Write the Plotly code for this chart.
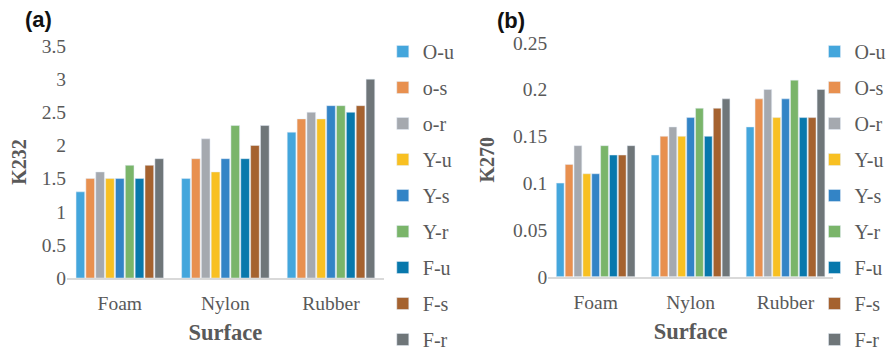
import plotly.graph_objects as go

surfaces = ["Foam", "Nylon", "Rubber"]
series_left = ["O-u", "o-s", "o-r", "Y-u", "Y-s", "Y-r", "F-u", "F-s", "F-r"]
series_right = ["O-u", "O-s", "O-r", "Y-u", "Y-s", "Y-r", "F-u", "F-s", "F-r"]
colors = ["#44A6DC", "#E8904F", "#A5A9AF", "#F8C022", "#3384C6",
          "#7AB56A", "#0878AC", "#A5622F", "#6F7679"]

# K232 values per series: [Foam, Nylon, Rubber]
k232 = [
    [1.3, 1.5, 2.2],
    [1.5, 1.8, 2.4],
    [1.6, 2.1, 2.5],
    [1.5, 1.6, 2.4],
    [1.5, 1.8, 2.6],
    [1.7, 2.3, 2.6],
    [1.5, 1.8, 2.5],
    [1.7, 2.0, 2.6],
    [1.8, 2.3, 3.0],
]
# K270 values per series: [Foam, Nylon, Rubber]
k270 = [
    [0.10, 0.13, 0.16],
    [0.12, 0.15, 0.19],
    [0.14, 0.16, 0.20],
    [0.11, 0.15, 0.17],
    [0.11, 0.17, 0.19],
    [0.14, 0.18, 0.21],
    [0.13, 0.15, 0.17],
    [0.13, 0.18, 0.17],
    [0.14, 0.19, 0.20],
]

SERIF = "Liberation Serif, Times New Roman, serif"
GRAY = "#595959"

# the page body adds an 8px offset; size the figure to fill the window
OFF = 8
W, H = 894 - OFF, 352 - OFF
L, R, T, B = 67 - OFF, 60.5, 40 - OFF, 74
pw, ph = W - L - R, H - T - B


def px_x(px):
    """window pixel x -> paper coordinate"""
    return (px - OFF - L) / pw


def px_y(py):
    """window pixel y -> paper coordinate"""
    return (H - B - (py - OFF)) / ph


fig = go.Figure()
for i, name in enumerate(series_left):
    fig.add_trace(go.Bar(
        x=surfaces, y=k232[i], name=name, marker_color=colors[i],
        xaxis="x", yaxis="y", legend="legend", legendgroup="L" + str(i),
    ))
for i, name in enumerate(series_right):
    fig.add_trace(go.Bar(
        x=surfaces, y=k270[i], name=name, marker_color=colors[i],
        xaxis="x2", yaxis="y2", legend="legend2", legendgroup="R" + str(i),
    ))

axis_font = dict(family=SERIF, size=19.5, color=GRAY)
xtitle_font = dict(family=SERIF, size=22.5, color=GRAY)
ytitle_font = dict(family=SERIF, size=20, color=GRAY)
legend_font = dict(family=SERIF, size=20, color=GRAY)

fig.update_layout(
    width=W, height=H,
    margin=dict(l=L, r=R, t=T, b=B, autoexpand=False),
    paper_bgcolor="white", plot_bgcolor="white",
    barmode="group", bargap=0.16, bargroupgap=0.12,
    xaxis=dict(domain=[px_x(67), px_x(384)], anchor="y", showgrid=False,
               showline=True, linecolor="#D9D9D9", linewidth=1.5,
               ticks="", tickfont=axis_font, automargin=False,
               ticklabelstandoff=7,
               title=dict(text="<b>Surface</b>", font=xtitle_font,
                          standoff=11)),
    yaxis=dict(domain=[px_y(278), px_y(46)], anchor="x", range=[0, 3.5],
               dtick=0.5, showgrid=False, zeroline=False, showline=False,
               tickfont=axis_font, ticks="", automargin=False,
               title=dict(text="<b>K232</b>", font=ytitle_font, standoff=15)),
    xaxis2=dict(domain=[px_x(548.5), px_x(833.5)], anchor="y2",
                showgrid=False, showline=True, linecolor="#D9D9D9",
                linewidth=1.5, ticks="", tickfont=axis_font, automargin=False,
                ticklabelstandoff=7,
                title=dict(text="<b>Surface</b>", font=xtitle_font,
                           standoff=11)),
    yaxis2=dict(domain=[px_y(276.7), px_y(42.7)], anchor="x2",
                range=[0, 0.25], dtick=0.05, showgrid=False, zeroline=False,
                showline=False, tickfont=axis_font, ticks="", automargin=False,
                title=dict(text="<b>K270</b>", font=ytitle_font, standoff=13)),
    legend=dict(x=px_x(383), y=px_y(32), xanchor="left", yanchor="top",
                font=legend_font, tracegroupgap=7, itemwidth=30,
                bgcolor="rgba(0,0,0,0)", maxheight=1000),
    legend2=dict(x=px_x(815), y=px_y(32), xanchor="left", yanchor="top",
                 font=legend_font, tracegroupgap=7, itemwidth=30,
                 bgcolor="rgba(0,0,0,0)", maxheight=1000),
    showlegend=True,
)

label_font = dict(family="Liberation Sans, Arial, sans-serif", size=22,
                  color="#111111")
fig.add_annotation(text="<b>(a)</b>", x=px_x(23), y=px_y(19.5), xref="paper",
                   yref="paper", xanchor="left", yanchor="middle",
                   showarrow=False, font=label_font)
fig.add_annotation(text="<b>(b)</b>", x=px_x(495), y=px_y(20.5), xref="paper",
                   yref="paper", xanchor="left", yanchor="middle",
                   showarrow=False, font=label_font)

fig.write_html("out.html")
